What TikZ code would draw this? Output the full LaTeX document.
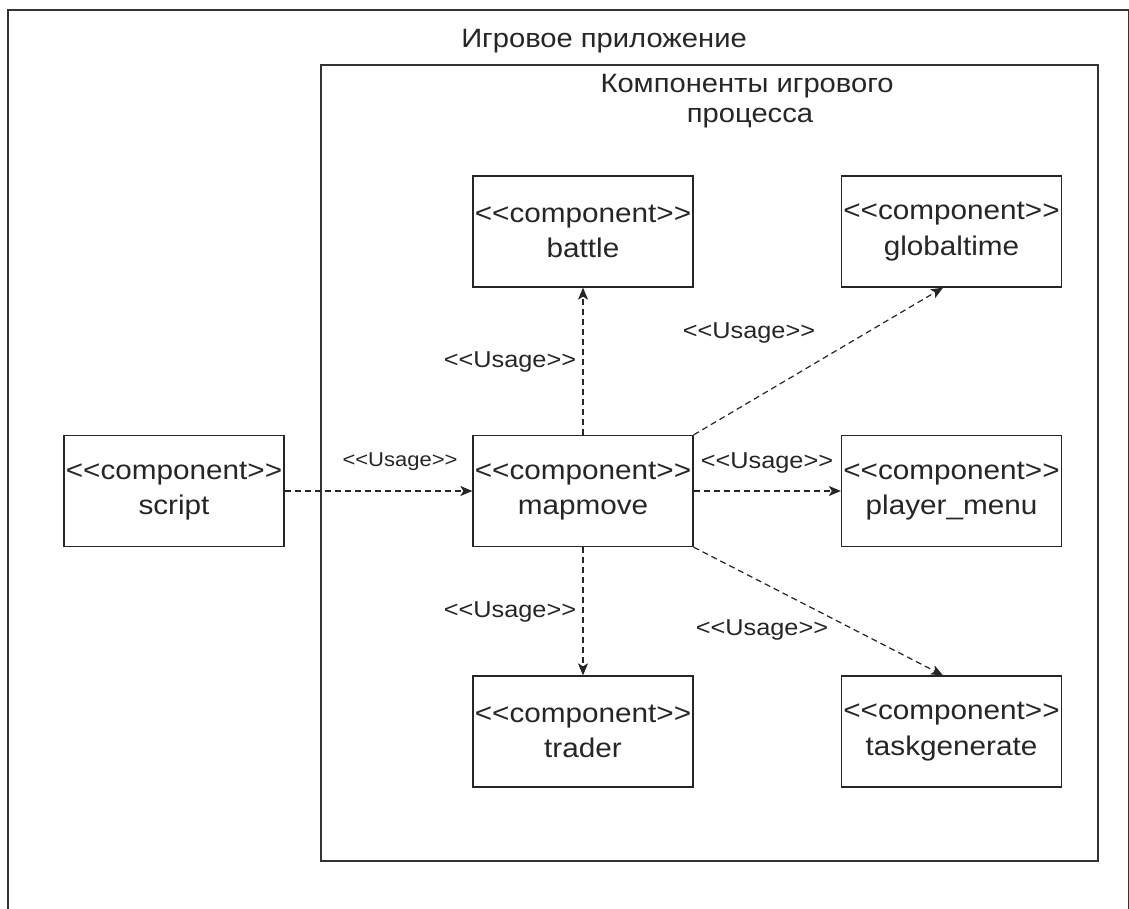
\documentclass[tikz,border=0pt]{standalone}
\usepackage{fontspec}
\setmainfont{Liberation Sans}[FakeStretch=1.1]
\usetikzlibrary{arrows.meta}
\newcommand\stereo[1]{<{}<#1>{}>}
\begin{document}
\begin{tikzpicture}[x=1pt,y=-1pt,
  frame/.style={draw=black!80,line width=1.3pt},
  comp/.style={draw=black!85,line width=1.3pt,minimum width=220pt,minimum height=111pt,inner sep=0pt,align=center,
    font=\fontsize{27}{35.5}\selectfont,text=black!85},
  usage/.style={dashed,dash pattern=on 6pt off 4pt,line width=1.2pt,draw=black!85,-{Stealth[length=12pt,width=10pt,inset=3pt]}},
  lbl/.style={font=\fontsize{23}{28}\selectfont,text=black!85,inner sep=0pt},
  slbl/.style={font=\fontsize{20}{24}\selectfont,text=black!85,inner sep=0pt},
  ttl/.style={font=\fontsize{26.5}{31}\selectfont,text=black!85,inner sep=0pt,anchor=base}]
\useasboundingbox (0,0) rectangle (1129,908);
\clip (0,0) rectangle (1129,908);
\path[fill=white] (0,0) rectangle (1129,908);
\draw[frame] (8,10) rectangle (1128.5,940);
\node[ttl] (t1) at (604,47) {Игровое приложение};
\draw[frame] (321,65) rectangle (1098,861);
\node[ttl] (t2) at (747,92) {Компоненты игрового};
\node[ttl] (t3) at (750,122) {процесса};

\node[comp] (script) at (174,491) {\stereo{component}\\script};
\node[comp] (mapmove) at (583,491) {\stereo{component}\\mapmove};
\node[comp] (player) at (951.5,491) {\stereo{component}\\player\_menu};
\node[comp] (battle) at (583,231.5) {\stereo{component}\\battle};
\node[comp] (globaltime) at (951.5,231.5) {\stereo{component}\\globaltime};
\node[comp] (trader) at (583,731.5) {\stereo{component}\\trader};
\node[comp] (taskgen) at (951.5,731.5) {\stereo{component}\\taskgenerate};

\draw[usage] (script.east) -- (mapmove.west);
\draw[usage] (mapmove.east) -- (player.west);
\draw[usage] (mapmove.north) -- (battle.south);
\draw[usage] (mapmove.south) -- (trader.north);
\draw[usage] (mapmove.north east) -- ([xshift=-8.5pt]globaltime.south);
\draw[usage] (mapmove.south east) -- ([xshift=-8.5pt]taskgen.north);

\node[slbl] (l1) at (400,462) {\stereo{Usage}};
\node[lbl] (l2) at (767,463) {\stereo{Usage}};
\node[lbl] (l3) at (510,362) {\stereo{Usage}};
\node[lbl] (l4) at (749,333) {\stereo{Usage}};
\node[lbl] (l5) at (510,612) {\stereo{Usage}};
\node[lbl] (l6) at (762,630) {\stereo{Usage}};
\end{tikzpicture}
\end{document}
